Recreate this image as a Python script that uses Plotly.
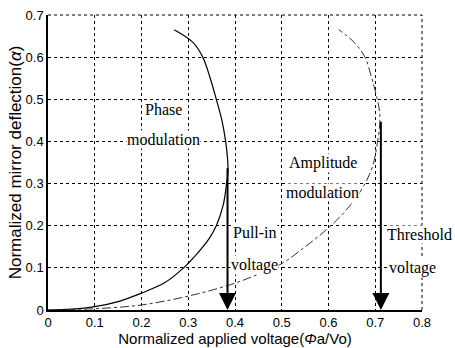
import plotly.graph_objects as go

# Phase modulation curve (solid)
phase_x = [0, 0.05, 0.1, 0.15, 0.2, 0.25, 0.29, 0.32, 0.345, 0.36, 0.375, 0.382, 0.385,
           0.384, 0.38, 0.372, 0.36, 0.347, 0.331, 0.31, 0.27]
phase_y = [0, 0.002, 0.008, 0.02, 0.04, 0.065, 0.1, 0.135, 0.17, 0.2, 0.25, 0.3, 0.33,
           0.36, 0.4, 0.45, 0.5, 0.55, 0.6, 0.635, 0.665]

# Amplitude modulation curve (dash-dot)
amp_x = [0, 0.1, 0.2, 0.3, 0.39, 0.45, 0.5, 0.55, 0.6, 0.64, 0.673, 0.694, 0.705, 0.71,
         0.708, 0.7, 0.69, 0.678, 0.655, 0.622]
amp_y = [0, 0.003, 0.012, 0.033, 0.06, 0.085, 0.11, 0.15, 0.195, 0.24, 0.29, 0.34, 0.4, 0.45,
         0.48, 0.52, 0.56, 0.6, 0.635, 0.665]

# Arrows: (x, start y)
pullin_x, pullin_top = 0.384, 0.34
threshold_x, threshold_top = 0.712, 0.45

x_ticks = [0, 0.1, 0.2, 0.3, 0.4, 0.5, 0.6, 0.7, 0.8]
x_tick_text = ["0", "0.1", "0.2", "0.3", "0.4", "0.5", "0.6", "0.7", "0.8"]
y_ticks = [0, 0.1, 0.2, 0.3, 0.4, 0.5, 0.6, 0.7]
y_tick_text = ["0", "0.1", "0.2", "0.3", "0.4", "0.5", "0.6", "0.7"]

labels = [
    ("Phase", 0.246, 0.475),
    ("modulation", 0.246, 0.404),
    ("Amplitude", 0.588, 0.349),
    ("modulation", 0.588, 0.278),
    ("Pull-in", 0.442, 0.185),
    ("voltage", 0.442, 0.107),
    ("Threshold", 0.795, 0.178),
    ("voltage", 0.78, 0.10),
]

fig = go.Figure()
fig.add_trace(go.Scatter(x=phase_x, y=phase_y, mode="lines", line=dict(color="black", width=1.2),
                         line_shape="spline", showlegend=False))
fig.add_trace(go.Scatter(x=amp_x, y=amp_y, mode="lines", line=dict(color="#333333", width=1, dash="dashdot"),
                         line_shape="spline", showlegend=False))

annotations = []
for ax_, top in [(pullin_x, pullin_top), (threshold_x, threshold_top)]:
    annotations.append(dict(x=ax_, y=0, ax=ax_, ay=top, xref="x", yref="y", axref="x", ayref="y",
                            text="", showarrow=True, arrowhead=2, arrowsize=1.7, arrowwidth=2,
                            arrowcolor="black"))
for t, lx, ly in labels:
    annotations.append(dict(x=lx, y=ly, xref="x", yref="y", text=t, showarrow=False,
                            font=dict(family="Liberation Serif", size=16, color="black"),
                            bgcolor="white", borderpad=0))

fig.update_layout(
    width=455, height=348,
    margin=dict(l=48, r=33, t=15, b=38, autoexpand=False),
    paper_bgcolor="white", plot_bgcolor="white",
    annotations=annotations,
    font=dict(family="Liberation Sans", size=13, color="black"),
    shapes=[
        dict(type="line", xref="paper", yref="paper", x0=0, x1=1, y0=1, y1=1,
             line=dict(color="black", width=1, dash="3px,3px")),
        dict(type="line", xref="paper", yref="paper", x0=1, x1=1, y0=0, y1=1,
             line=dict(color="black", width=1, dash="3px,3px")),
    ],
)
fig.update_xaxes(range=[0, 0.8], tickvals=x_ticks, ticktext=x_tick_text, automargin=False,
                 showgrid=True, gridcolor="black", gridwidth=1, griddash="3px,3px",
                 showline=True, linecolor="black", linewidth=1.5, zeroline=False,
                 ticks="", tickfont=dict(size=13),
                 title=dict(text="Normalized applied voltage(<i>Φ</i>a/Vo)", font=dict(size=15), standoff=0))
fig.update_yaxes(range=[0, 0.7], tickvals=y_ticks, ticktext=y_tick_text, automargin=False,
                 showgrid=True, gridcolor="black", gridwidth=1, griddash="3px,3px",
                 showline=True, linecolor="black", linewidth=1.5, zeroline=False,
                 ticks="", tickfont=dict(size=13),
                 title=dict(text="Normalized mirror deflection(<i>α</i>)", font=dict(size=17), standoff=0))

fig.write_html("out.html", config={"displayModeBar": False},
               post_script="document.body.style.margin='0';document.body.style.overflow='hidden';")
